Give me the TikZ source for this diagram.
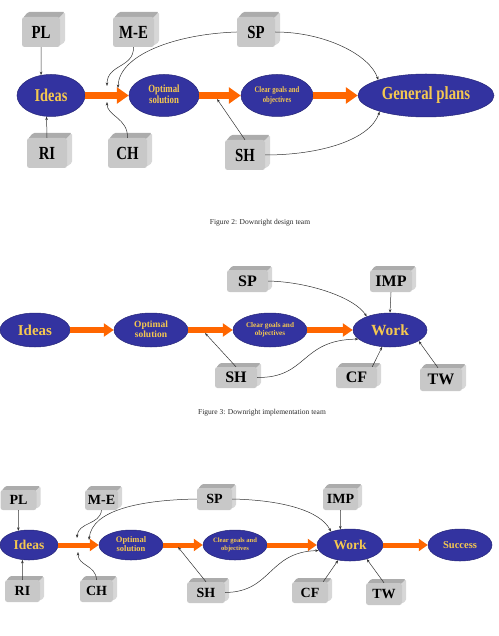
\documentclass[tikz,border=0pt]{standalone}
\usepackage{fontspec}
\setmainfont{Liberation Serif}
\usepackage{graphicx}
\usetikzlibrary{shapes.geometric,arrows.meta}
\definecolor{ellblue}{RGB}{51,51,160}
\definecolor{ellgold}{RGB}{245,200,80}
\definecolor{arrorange}{RGB}{255,102,0}
\definecolor{boxfront}{RGB}{200,200,200}
\definecolor{boxtop}{RGB}{172,172,172}
\definecolor{boxside}{RGB}{215,215,215}
\definecolor{linegray}{RGB}{50,50,50}
\definecolor{capgray}{RGB}{40,40,40}
\newcommand\myfs[1]{\fontsize{#1}{#1}\selectfont}
\newcommand\sqz[1]{\scalebox{0.8}[1]{#1}}
\newcommand\twol[4]{{\fontsize{#1}{#2}\selectfont\begin{tabular}{@{}c@{}}#3\\#4\end{tabular}}}
% name, cx, cy, w, h, text, depth
\newcommand\cubenode[7]{%
  \fill[boxtop, rounded corners=1.5pt] (#2-#4/2+1,#3-#5/2+1) -- (#2-#4/2+#7+1,#3-#5/2-#7) -- (#2+#4/2+#7,#3-#5/2-#7) -- (#2+#4/2,#3-#5/2+1) -- cycle;
  \fill[boxside, rounded corners=1.5pt] (#2+#4/2-1,#3-#5/2+1) -- (#2+#4/2+#7,#3-#5/2-#7) -- (#2+#4/2+#7,#3+#5/2-#7) -- (#2+#4/2-1,#3+#5/2-1) -- cycle;
  \node[cubefront, minimum width=#4pt, minimum height=#5pt] (#1) at (#2,#3) {#6};
}
\begin{document}
\begin{tikzpicture}[x=1pt,y=-1pt,
  ell/.style={ellipse, fill=ellblue, draw=ellblue!75!black, line width=0.5pt, inner sep=0pt, text=ellgold, font=\bfseries, align=center},
  cubefront/.style={rectangle, rounded corners=2.5pt, fill=boxfront, inner sep=0pt, font=\bfseries},
  thinarrow/.style={draw=linegray, line width=0.5pt, -{Stealth[length=3.5pt,width=2.6pt]}},
  bigA/.style={draw=arrorange, line width=7pt, -{Triangle[length=12pt,width=16pt]}},
  bigB/.style={draw=arrorange, line width=6pt, -{Triangle[length=10pt,width=13pt]}},
  bigC/.style={draw=arrorange, line width=5pt, -{Triangle[length=9pt,width=12pt]}},
  caption/.style={font=\fontsize{7.5}{9}\selectfont, text=capgray, inner sep=0pt}]
\useasboundingbox (0,0) rectangle (498,636);

% ---------------- Diagram 1 ----------------
\cubenode{pl1}{41}{32}{38}{30}{\sqz{\myfs{18.5}PL}}{5}
\cubenode{me1}{133.5}{32}{41}{30}{\sqz{\myfs{18.5}M-E}}{5}
\cubenode{sp1}{256}{32}{38}{30}{\sqz{\myfs{18.5}SP}}{5}
\cubenode{ri1}{47}{153}{40}{30}{\sqz{\myfs{18.5}RI}}{5}
\cubenode{ch1}{127.5}{153}{39}{30}{\sqz{\myfs{18.5}CH}}{5}
\cubenode{sh1}{245}{155}{40}{30}{\sqz{\myfs{18.5}SH}}{5}

\node[ell, minimum width=68pt, minimum height=42pt] (ideas1) at (51,95.5) {\sqz{\myfs{18}Ideas}};
\node[ell, minimum width=70pt, minimum height=42pt] (opt1) at (164,95.5) {\sqz{\twol{11}{11}{Optimal}{solution}}};
\node[ell, minimum width=72pt, minimum height=42pt] (clear1) at (277,95.5) {\sqz{\twol{8.4}{10}{Clear goals and}{objectives}}};
\node[ell, minimum width=136pt, minimum height=43pt] (gen1) at (426,95.5) {\sqz{\myfs{18.5}General plans}};

\draw[bigA] (ideas1) -- (opt1);
\draw[bigA] (opt1) -- (clear1);
\draw[bigA] (clear1) -- (gen1);

\coordinate (me1end) at (107,86);
\coordinate (ch1end) at (107,102);
\coordinate (sp1end) at (118,88);
\coordinate (sh1end) at (217,99);
\draw[thinarrow] (pl1.south) -- (ideas1.116);
\draw[thinarrow] (ri1.north) -- (ideas1.258);
\draw[thinarrow] (me1.south) .. controls (134,68) and (107,64) .. (me1end);
\draw[thinarrow] (ch1.north) .. controls (128,118) and (107,116) .. (ch1end);
\draw[thinarrow] (sp1.west) .. controls (175,34) and (119,55) .. (sp1end);
\draw[thinarrow] (sh1.north) -- (sh1end);
\draw[thinarrow] (sp1.east) .. controls (325,32) and (370,55) .. (gen1.162);
\draw[thinarrow] (sh1.east) .. controls (320,155) and (370,140) .. (gen1.199);

\node[caption] (cap2) at (260,223) {Figure 2: Downright design team};

% ---------------- Diagram 2 ----------------
\cubenode{sp2}{247.5}{281}{41}{22}{\myfs{16}SP}{4}
\cubenode{imp2}{391}{281}{42}{22}{\myfs{16}IMP}{4}
\cubenode{sh2}{236}{377.5}{42}{21}{\myfs{16}SH}{4}
\cubenode{cf2}{356.5}{377.5}{41}{21}{\myfs{16}CF}{4}
\cubenode{tw2}{441}{379.5}{42}{23}{\myfs{16}TW}{4}

\node[ell, minimum width=70pt, minimum height=34pt] (ideas2) at (35,330) {\myfs{15}Ideas};
\node[ell, minimum width=74pt, minimum height=34pt] (opt2) at (151,330) {\twol{9.5}{10}{Optimal}{solution}};
\node[ell, minimum width=74pt, minimum height=34pt] (clear2) at (270,330) {\twol{7.2}{8.3}{Clear goals and}{objectives}};
\node[ell, minimum width=74pt, minimum height=34pt] (work2) at (390,330) {\myfs{15.5}Work};

\draw[bigB] (ideas2) -- (opt2);
\draw[bigB] (opt2) -- (clear2);
\draw[bigB] (clear2) -- (work2);

\coordinate (sh2end) at (205,333);
\draw[thinarrow] (sp2.east) .. controls (310,282) and (355,298) .. (work2.150);
\draw[thinarrow] (imp2.south) -- (work2.north);
\draw[thinarrow] (sh2.north) -- (sh2end);
\draw[thinarrow] (sh2.east) .. controls (308,378) and (300,340) .. (work2.196);
\draw[thinarrow] ([xshift=-5pt]cf2.north east) -- (work2.245);
\draw[thinarrow] ([xshift=-3pt]tw2.north) -- (work2.339);

\node[caption] (cap3) at (262,413) {Figure 3: Downright implementation team};

% ---------------- Diagram 3 ----------------
\cubenode{pl3}{18.5}{500}{36}{20}{\myfs{14}PL}{4}
\cubenode{me3}{101.5}{500}{33}{20}{\myfs{14}M-E}{4}
\cubenode{sp3}{214.5}{499}{35}{22}{\myfs{14}SP}{4}
\cubenode{imp3}{340.5}{499}{35}{22}{\myfs{14}IMP}{4}
\cubenode{ri3}{22.5}{591}{35}{22}{\myfs{14}RI}{4}
\cubenode{ch3}{96.5}{591}{33}{22}{\myfs{14}CH}{4}
\cubenode{sh3}{206}{592.5}{38}{21}{\myfs{14}SH}{4}
\cubenode{cf3}{310}{592.5}{36}{21}{\myfs{14}CF}{4}
\cubenode{tw3}{384}{594}{36}{22}{\myfs{14}TW}{4}

\node[ell, minimum width=58pt, minimum height=30pt] (ideas3) at (29,545) {\myfs{13.5}Ideas};
\node[ell, minimum width=64pt, minimum height=30pt] (opt3) at (131,545) {\twol{8.5}{9.3}{Optimal}{solution}};
\node[ell, minimum width=64pt, minimum height=30pt] (clear3) at (235,545) {\twol{6.6}{7.8}{Clear goals and}{objectives}};
\node[ell, minimum width=66pt, minimum height=32pt] (work3) at (350,545) {\myfs{13.5}Work};
\node[ell, minimum width=64pt, minimum height=32pt] (success3) at (460,545) {\myfs{10.5}Success};

\draw[bigC] (ideas3) -- (opt3);
\draw[bigC] (opt3) -- (clear3);
\draw[bigC] (clear3) -- (work3);
\draw[bigC] (work3) -- (success3);

\coordinate (me3end) at (77,538);
\coordinate (ch3end) at (78,552);
\coordinate (sp3end) at (89,540);
\coordinate (sh3end) at (178,547);
\draw[thinarrow] (pl3.south) -- (ideas3.127);
\draw[thinarrow] (ri3.north) -- (ideas3.246);
\draw[thinarrow] (me3.south) .. controls (100,525) and (78,522) .. (me3end);
\draw[thinarrow] (ch3.north) .. controls (96,565) and (78,566) .. (ch3end);
\draw[thinarrow] (sp3.west) .. controls (140,500) and (92,510) .. (sp3end);
\draw[thinarrow] (sp3.east) .. controls (280,500) and (320,510) .. (work3.145);
\draw[thinarrow] (sh3.north) -- (sh3end);
\draw[thinarrow] (sh3.east) .. controls (272,592) and (268,552) .. (work3.190);
\draw[thinarrow] (imp3.south) -- (work3.122);
\draw[thinarrow] ([xshift=-5pt]cf3.north east) -- (work3.232);
\draw[thinarrow] (tw3.north) -- (work3.320);
\end{tikzpicture}
\end{document}
